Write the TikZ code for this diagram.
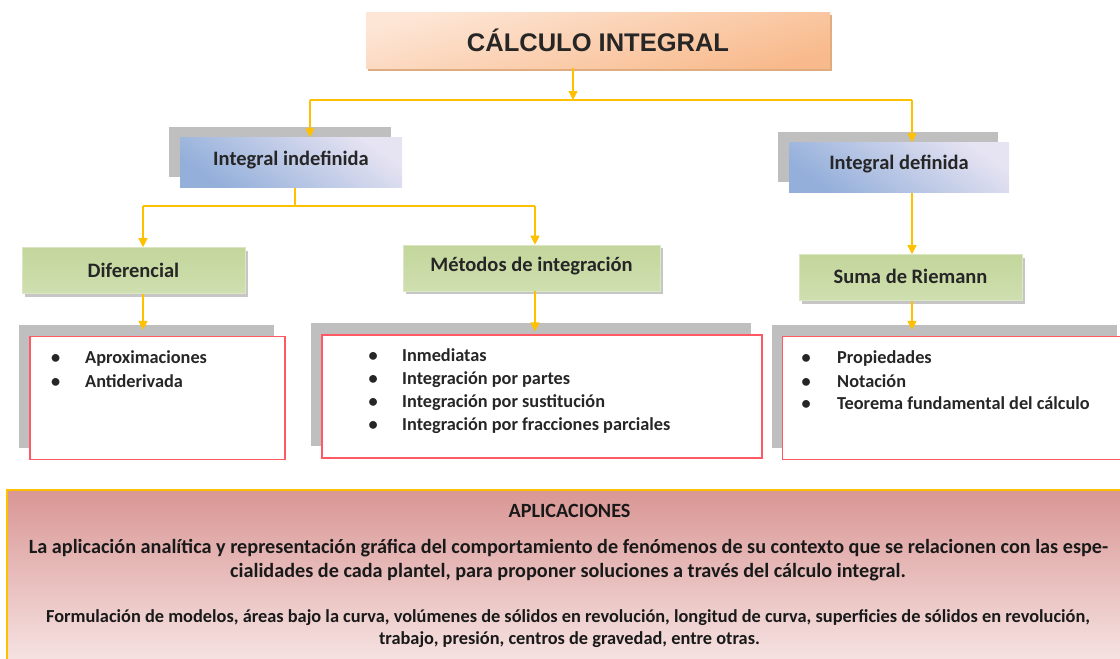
\documentclass[tikz,border=0pt]{standalone}
\usepackage{fontspec}
\setmainfont{Carlito}[BoldFont={Carlito Bold}]
\newfontfamily\titlefont{Liberation Sans}
\usetikzlibrary{shadows,arrows.meta}
\definecolor{gold}{HTML}{FFC000}
\definecolor{shgray}{HTML}{BFBFBF}
\definecolor{orA}{HTML}{FDE6D6}
\definecolor{orB}{HTML}{F8BA8C}
\definecolor{blA}{HTML}{E6E3F2}
\definecolor{blB}{HTML}{93AFDA}
\definecolor{grA}{HTML}{C3D69B}
\definecolor{grB}{HTML}{EEF3E2}
\definecolor{grC}{HTML}{CFDFB0}
\definecolor{redb}{HTML}{FF5A64}
\definecolor{pkA}{HTML}{D99694}
\definecolor{pkB}{HTML}{F5E2E1}
\tikzset{
  titlebox/.style={minimum width=464pt, minimum height=56pt, inner sep=0pt,
    top color=orA, bottom color=orB, shading angle=15,
    drop shadow={shadow xshift=2pt, shadow yshift=-3pt, fill=brown!60!orB, opacity=0.8},
    font=\titlefont\bfseries\fontsize{25.5}{30}\selectfont, text=black!85},
  boxfont/.style={font=\bfseries\fontsize{20.5}{24}\selectfont, text=black!85,
    text height=14pt, text depth=#1},
  bluebox/.style={minimum width=#1, minimum height=50pt, inner sep=0pt,
    top color=blA, bottom color=blB, shading angle=-35,
    general shadow={fill=shgray, shadow xshift=-11pt, shadow yshift=11pt}},
  greenbox/.style={minimum width=#1, minimum height=46pt, inner sep=0pt,
    top color=grA, middle color=grB, bottom color=grC, draw=grA!60!white, line width=0.6pt,
    drop shadow={shadow xshift=2.5pt, shadow yshift=-3pt, fill=gray, opacity=0.45}},
  listbox/.style={minimum width=#1, minimum height=123pt, inner sep=0pt,
    fill=white, draw=redb, line width=1.3pt,
    general shadow={fill=shgray, shadow xshift=-11pt, shadow yshift=12pt}},
  li/.style={anchor=base west, inner sep=0pt,
    font=\bfseries\fontsize{18.3}{22}\selectfont, text=black!85},
  arr/.style={draw=gold, line width=1.3pt, -{Triangle[width=9pt,length=9pt]}},
  conn/.style={draw=gold, line width=1.3pt},
  btextA/.style={anchor=base, inner sep=0pt, font=\bfseries\fontsize{20.2}{24}\selectfont, text=black!90},
  btextB/.style={anchor=base, inner sep=0pt, font=\bfseries\fontsize{18.35}{22}\selectfont, text=black!90},
}
\newcommand{\bul}[1]{\makebox[#1][l]{\textbullet}}
\begin{document}
\begin{tikzpicture}[x=1pt,y=-1pt]
\useasboundingbox (0,0) rectangle (1120,659);
% top
\node[titlebox] (title) at (598,40) {CÁLCULO INTEGRAL};
\node[bluebox=222pt, boxfont=9pt] (indef) at (291,162.5) {Integral indefinida};
\node[bluebox=220pt, boxfont=10pt] (def) at (899,167.5) {Integral definida};
\node[greenbox=223pt, boxfont=1pt] (dif) at (133.5,270.5) {Diferencial};
\node[greenbox=257pt, boxfont=7pt] (met) at (531.5,268) {Métodos de integración};
\node[greenbox=223pt, boxfont=2pt] (sum) at (910.5,277.5) {Suma de Riemann};
\node[listbox=255pt] (list1) at (157.5,398) {};
\node[listbox=440pt] (list2) at (542,396.5) {};
\node[listbox=345pt] (list3) at (955,398) {};
% connectors
\coordinate (b1) at (573,100);
\coordinate (bL) at (310,100);
\coordinate (bR) at (912,100);
\coordinate (c0) at (295,206);
\coordinate (cL) at (143,206);
\coordinate (cR) at (535,206);
\draw[arr] (b1 |- title.south) -- (b1);
\draw[conn] (bL) -- (bR);
\draw[arr] (bL) -- (bL |- indef.north);
\draw[arr] (bR) -- (bR |- def.north);
\draw[conn] (c0 |- indef.south) -- (c0);
\draw[conn] (cL) -- (cR);
\draw[arr] (cL) -- (cL |- dif.north);
\draw[arr] (cR) -- (cR |- met.north);
\draw[arr] (bR |- def.south) -- (bR |- sum.north);
\draw[arr, shorten >=6pt] (cL |- dif.south) -- (cL |- list1.north);
\draw[arr, shorten >=3pt] (cR |- met.south) -- (cR |- list2.north);
\draw[arr, shorten >=6pt] (bR |- sum.south) -- (bR |- list3.north);
% list texts
\node[li] (t1a) at (51,363) {\bul{34pt}Aproximaciones};
\node[li] (t1b) at (51,387) {\bul{34pt}Antiderivada};
\node[li] (t2a) at (368.5,361) {\bul{33.5pt}Inmediatas};
\node[li] (t2b) at (368.5,384) {\bul{33.5pt}Integración por partes};
\node[li] (t2c) at (368.5,407) {\bul{33.5pt}Integración por sustitución};
\node[li] (t2d) at (368.5,430) {\bul{33.5pt}Integración por fracciones parciales};
\node[li] (t3a) at (801.5,363) {\bul{35.5pt}Propiedades};
\node[li] (t3b) at (801.5,387) {\bul{35.5pt}Notación};
\node[li] (t3c) at (801.5,409.5) {\bul{35.5pt}Teorema fundamental del cálculo};
% bottom
\shade[top color=pkA, bottom color=pkB] (7,490) rectangle (1120,659);
\draw[conn, line width=1.6pt] (7,659) -- (7,490) -- (1120,490);
\node[btextA] (ap) at (569.5,517) {APLICACIONES};
\node[btextA] (p1) at (568.5,553) {La aplicación analítica y representación gráfica del comportamiento de fenómenos de su contexto que se relacionen con las espe-};
\node[btextA] (p2) at (568,577) {cialidades de cada plantel, para proponer soluciones a través del cálculo integral.};
\node[btextB] (p3) at (568,622) {Formulación de modelos, áreas bajo la curva, volúmenes de sólidos en revolución, longitud de curva, superficies de sólidos en revolución,};
\node[btextB] (p4) at (569.5,644) {trabajo, presión, centros de gravedad, entre otras.};
\end{tikzpicture}
\end{document}
